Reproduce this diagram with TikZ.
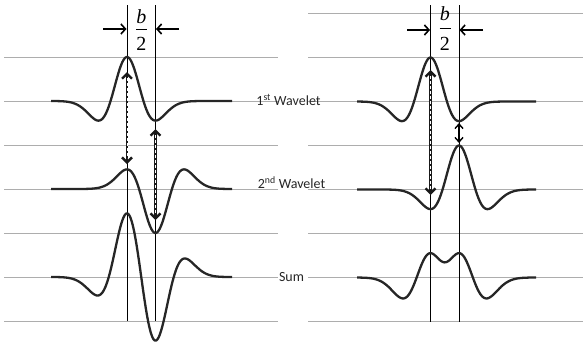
\documentclass[tikz,border=0pt]{standalone}
\usepackage{fontspec}
\setmainfont{Carlito}
\newfontfamily\serifb{Liberation Serif}
\usetikzlibrary{arrows.meta}
\begin{document}
\begin{tikzpicture}[x=1pt,y=-1pt,
  declare function={ric(\u)=(1-2*0.0018467*\u*\u)*exp(-0.0018467*\u*\u);},
  grid/.style={draw=black!32,line width=0.9pt},
  wave/.style={draw=black!85,line width=2.3pt,line join=round},
  vline/.style={draw=black,line width=0.9pt},
  darr/.style={draw=black!90,line width=2.4pt,{Straight Barb[length=5pt,width=10pt]}-{Straight Barb[length=5pt,width=10pt]}},
  dwhite/.style={draw=white,line width=0.8pt,dash pattern=on 3pt off 2pt,shorten <=6pt,shorten >=6pt},
  barr/.style={draw=black,line width=1.6pt,-{Straight Barb[length=4.5pt,width=10pt]}},
  lbl/.style={font=\fontsize{14}{16}\selectfont,text=black!85,inner sep=0pt},
  frac/.style={font=\serifb\fontsize{20}{22}\selectfont,inner sep=0pt}]
\useasboundingbox (0,0) rectangle (583,343);
% gray grid lines
\foreach \y in {57,101,145,189,233,277,321}{
  \draw[grid] (4,\y) -- (278,\y);
}
\foreach \y in {13,57.5,101.5,145.5,189.5,233.5,277.5,321.5}{
  \draw[grid] (308,\y) -- (583,\y);
}
% vertical lines
\coordinate (LAt) at (127,5);   \coordinate (LAb) at (127,321);
\coordinate (LBt) at (155.5,5); \coordinate (LBb) at (155.5,321);
\coordinate (RAt) at (430.5,5); \coordinate (RAb) at (430.5,322);
\coordinate (RBt) at (459,5);   \coordinate (RBb) at (459,322);
\draw[vline] (LAt) -- (LAb);
\draw[vline] (LBt) -- (LBb);
\draw[vline] (RAt) -- (RAb);
\draw[vline] (RBt) -- (RBb);
% left wavelets
\draw[wave] plot[domain=51:232,samples=181,smooth] (\x,{101-44*ric(\x-127)});
\draw[wave] plot[domain=51:232,samples=181,smooth] (\x,{189+44*ric(\x-155.5)});
\draw[wave] plot[domain=51:232,samples=181,smooth] (\x,{277-44*ric(\x-127)+44*ric(\x-155.5)});
% right wavelets
\draw[wave] plot[domain=357:536,samples=181,smooth] (\x,{101.5-44*ric(\x-430.5)});
\draw[wave] plot[domain=357:536,samples=181,smooth] (\x,{189.5-44*ric(\x-459)});
\draw[wave] plot[domain=357:536,samples=181,smooth] (\x,{277.5-44*ric(\x-430.5)-44*ric(\x-459)});
% dashed arrows
\coordinate (a1t) at (127,72);   \coordinate (a1b) at (127,164);
\coordinate (a2t) at (155.5,129); \coordinate (a2b) at (155.5,220);
\coordinate (a3t) at (430.5,70); \coordinate (a3b) at (430.5,195);
\coordinate (a4t) at (459,123);  \coordinate (a4b) at (459,143);
\draw[darr] (a1t) -- (a1b);
\draw[dwhite] (a1t) -- (a1b);
\draw[darr] (a2t) -- (a2b);
\draw[dwhite] (a2t) -- (a2b);
\draw[darr] (a3t) -- (a3b);
\draw[dwhite] (a3t) -- (a3b);
\draw[line width=1.4pt,draw=black,{Straight Barb[length=4.5pt,width=8pt]}-{Straight Barb[length=4.5pt,width=8pt]}] (a4t) -- (a4b);
% b/2 arrows
\coordinate (bl1) at (103,29); \coordinate (bl2) at (126.5,29);
\coordinate (bl3) at (179,29); \coordinate (bl4) at (156,29);
\coordinate (br1) at (407,30); \coordinate (br2) at (430,30);
\coordinate (br3) at (483,30); \coordinate (br4) at (459.5,30);
\draw[barr] (bl1) -- (bl2);
\draw[barr] (bl3) -- (bl4);
\draw[barr] (br1) -- (br2);
\draw[barr] (br3) -- (br4);
% b/2 fractions
\node[frac] (bL) at (141.3,17) {\itshape b};
\node[frac] (tL) at (141.3,44) {2};
\draw[line width=0.6pt] (136,29.5) -- (147,29.5);
\node[frac] (bR) at (444.8,13.5) {\itshape b};
\node[frac] (tR) at (444.8,44) {2};
\draw[line width=0.6pt] (439.5,28) -- (450.5,28);
% labels
\node[lbl] (w1) at (288.5,100) {1\textsuperscript{st} Wavelet};
\node[lbl] (w2) at (291.5,183) {2\textsuperscript{nd} Wavelet};
\node[lbl] (sm) at (291.5,277) {Sum};
\end{tikzpicture}
\end{document}
